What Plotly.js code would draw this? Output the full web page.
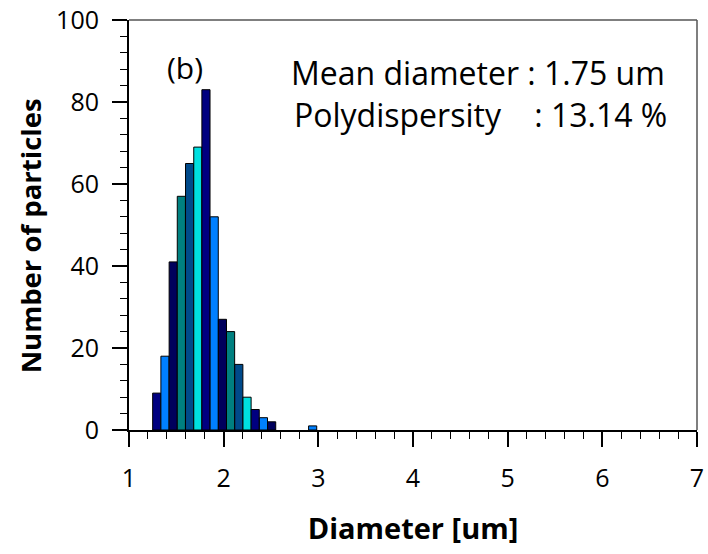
<!DOCTYPE html>
<html>
<head>
<meta charset="utf-8">
<script src="https://cdn.plot.ly/plotly-3.0.1.min.js"></script>
<style>html,body{margin:0;padding:0;background:#fff;}#chart{width:708px;height:554px;}</style>
</head>
<body>
<div id="chart"></div>
<script>
// Bin centers (um) and counts
const binCenters = [1.293, 1.380, 1.467, 1.553, 1.640, 1.727, 1.813, 1.900, 1.987, 2.073, 2.160, 2.247, 2.333, 2.420, 2.507, 2.940];
const counts     = [9, 18, 41, 57, 65, 69, 83, 52, 27, 24, 16, 8, 5, 3, 2, 1];
const barColors  = ['#000080', '#0080FF', '#00005C', '#008080', '#004A8A', '#00E0E0',
                    '#000080', '#0080FF', '#00005C', '#008080', '#004A8A', '#00E0E0',
                    '#000080', '#0080FF', '#00005C', '#0080FF'];
const xTickVals = [1, 2, 3, 4, 5, 6, 7];
const yTickVals = [0, 20, 40, 60, 80, 100];
const infoLines = ['Mean diameter : 1.75 um', 'Polydispersity&nbsp;&nbsp;&nbsp; : 13.14 %'];
const panelLabel = '(b)';
const xTitle = 'Diameter [um]';
const yTitle = 'Number of particles';

const FONT = '"Open Sans", "Noto Sans", sans-serif';

const trace = {
  type: 'bar',
  x: binCenters,
  y: counts,
  marker: { color: barColors, line: { color: '#000000', width: 1 } },
  hoverinfo: 'none'
};

const layout = {
  width: 708, height: 554,
  margin: { l: 129, r: 11, t: 20, b: 124 },
  paper_bgcolor: '#ffffff', plot_bgcolor: '#ffffff',
  showlegend: false,
  bargap: 0,
  font: { family: FONT, color: '#000', size: 25 },
  xaxis: {
    range: [1, 7], tickvals: xTickVals, ticks: 'outside', ticklen: 15, tickwidth: 2, tickcolor: '#000',
    minor: { dtick: 0.2, ticks: 'outside', ticklen: 7, tickwidth: 1, tickcolor: '#000' },
    showline: true, linecolor: '#000', linewidth: 2, mirror: false,
    showgrid: false, zeroline: false, ticklabelstandoff: 10,
    tickfont: { family: FONT, size: 25, color: '#000' },
    title: { text: '<b>' + xTitle + '</b>', font: { family: FONT, size: 29, color: '#000' }, standoff: 26 }
  },
  yaxis: {
    range: [0, 100], tickvals: yTickVals, ticks: 'outside', ticklen: 15, tickwidth: 2, tickcolor: '#000',
    minor: { dtick: 4, ticks: 'outside', ticklen: 7, tickwidth: 1, tickcolor: '#000' },
    showline: true, linecolor: '#000', linewidth: 2,
    showgrid: false, zeroline: false, ticklabelstandoff: 8,
    tickfont: { family: FONT, size: 25, color: '#000' }
  },
  shapes: [
    { type: 'line', xref: 'paper', yref: 'paper', x0: 0, x1: 1, y0: 1, y1: 1, line: { color: '#555', width: 1.5 } },
    { type: 'line', xref: 'paper', yref: 'paper', x0: 1, x1: 1, y0: 0, y1: 1, line: { color: '#555', width: 1.5 } }
  ],
  annotations: [
    { xref: 'paper', yref: 'paper', x: -0.174, y: 0.473, text: '<b>' + yTitle + '</b>', textangle: -90, showarrow: false,
      xanchor: 'center', yanchor: 'middle', font: { family: FONT, size: 27.5, color: '#000' } },
    { xref: 'paper', yref: 'paper', x: 0.098, y: 0.885, text: panelLabel, showarrow: false,
      xanchor: 'center', yanchor: 'middle', font: { family: FONT, size: 30, color: '#000' } },
    { xref: 'paper', yref: 'paper', x: 0.615, y: 0.872, text: infoLines[0], showarrow: false,
      xanchor: 'center', yanchor: 'middle', font: { family: FONT, size: 32, color: '#000' } },
    { xref: 'paper', yref: 'paper', x: 0.618, y: 0.770, text: infoLines[1], showarrow: false,
      xanchor: 'center', yanchor: 'middle', font: { family: FONT, size: 32, color: '#000' } }
  ]
};

Plotly.newPlot('chart', [trace], layout, { staticPlot: true, displayModeBar: false });
</script>
</body>
</html>
